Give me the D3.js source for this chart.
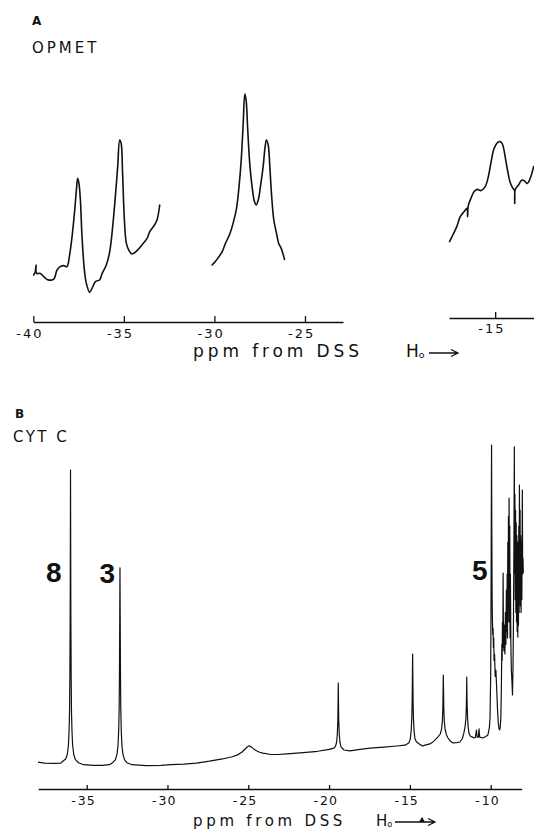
<!DOCTYPE html>
<html>
<head>
<meta charset="utf-8">
<script src="https://cdn.jsdelivr.net/npm/d3@7"></script>
<style>
  html, body { margin: 0; padding: 0; background: #fff; }
  svg { display: block; }
  text { font-family: "DejaVu Sans", "Liberation Sans", sans-serif; fill: #111; }
</style>
</head>
<body>
<svg id="chart" width="534" height="835"></svg>
<script>
// ---------- Panel A: OPMET, three recorded windows [ppm, intensity] ----------
const opmetWindow1 = [
  [-39.98,12.5],[-39.89,14.2],[-39.85,17.5],[-39.82,13.3],[-39.61,13.3],[-39.43,11.7],
  [-39.24,10.3],[-38.97,10],[-38.84,10.8],[-38.69,15],[-38.51,16.7],[-38.33,17.2],
  [-38.14,16.7],[-38.01,21.7],[-37.86,31.7],[-37.73,43.3],[-37.62,55],[-37.55,60.8],
  [-37.48,58.3],[-37.40,50],[-37.31,31.7],[-37.18,15],[-37.07,8.3],[-36.89,3.8],
  [-36.76,5.8],[-36.57,9.2],[-36.34,10],[-36.20,13.3],[-35.97,17.5],[-35.78,24.2],
  [-35.60,38.3],[-35.47,51.7],[-35.34,66.7],[-35.23,80],[-35.15,78.3],[-35.07,63.3],
  [-34.97,40],[-34.86,28.3],[-34.73,25],[-34.55,23],[-34.27,24.7],[-34.00,27.5],
  [-33.72,30.8],[-33.57,34.2],[-33.31,37.5],[-33.17,40],[-33.02,47.5]
];
const opmetWindow2 = [
  [-30.13,17.5],[-30.00,18.7],[-29.82,20.8],[-29.57,24.2],[-29.39,28.3],[-29.15,33],
  [-28.97,38.3],[-28.78,45.8],[-28.64,56.7],[-28.52,70],[-28.41,88.3],[-28.32,103],
  [-28.25,100],[-28.16,85],[-28.05,68.3],[-27.92,56.7],[-27.79,49.2],[-27.70,47.5],
  [-27.58,50],[-27.46,56.7],[-27.31,66.7],[-27.20,76.7],[-27.13,80],[-27.03,77.5],
  [-26.94,66.7],[-26.85,53.3],[-26.72,40],[-26.57,33.3],[-26.45,28.3],[-26.31,25.8],
  [-26.13,20.3]
];
const opmetWindow3 = [
  [-17.52,29.2],[-17.34,32.5],[-17.12,36.7],[-16.93,41.7],[-16.71,44.2],[-16.56,45.8],
  [-16.52,41.7],[-16.49,47],[-16.34,50.8],[-16.16,54.2],[-15.98,55.3],[-15.79,54.7],
  [-15.55,56.7],[-15.40,60.8],[-15.24,68.3],[-15.06,75.8],[-14.87,78.7],[-14.72,79.2],
  [-14.60,78],[-14.45,71.7],[-14.32,65],[-14.17,58.7],[-14.02,55.8],[-13.94,55],
  [-13.92,48.3],[-13.89,55.3],[-13.71,57.5],[-13.52,60],[-13.38,59.5],[-13.22,58.3],
  [-13.03,61.7],[-12.88,66.7]
];
const opmetTicksLeft = [-40, -35, -30, -25];
const opmetTicksRight = [-15];

// ---------- Panel B: cytochrome c, one continuous sweep [ppm, intensity] ----------
const cytcSpectrum = [
  [-38.01,1.2],[-37.6,0.9],[-37.0,0.8],[-36.6,0.9],
  [-36.5,1.4],[-36.3,2.2],[-36.2,3.6],[-36.13,6.5],[-36.09,11],[-36.06,17],[-36.04,28],
  [-36.02,48],[-36.01,70],[-36.0,92.5],[-35.99,70],[-35.98,48],[-35.96,28],[-35.94,17],
  [-35.91,11],[-35.87,6.5],[-35.8,3.6],[-35.7,2],[-35.5,1],[-35.2,0.4],
  [-34.6,0.2],[-34.0,0.2],[-33.6,0.4],
  [-33.4,1],[-33.22,2],[-33.12,3.8],[-33.06,6.5],[-33.02,11],[-32.99,18],[-32.97,30],
  [-32.955,45],[-32.94,61.9],[-32.925,45],[-32.91,30],[-32.89,18],[-32.86,11],[-32.82,6.5],
  [-32.76,3.8],[-32.66,2],[-32.5,1],[-32.2,0.4],
  [-31.3,0.1],[-30.4,0.2],[-29.8,0.4],[-29.0,0.6],[-28.2,0.9],[-27.4,1.5],[-26.6,2.2],
  [-26.0,2.9],[-25.7,3.4],[-25.4,4.3],[-25.2,5.3],[-25.05,6],[-24.95,6.3],[-24.8,5.9],
  [-24.58,5.0],[-24.3,4.3],[-24.09,4.0],[-23.6,3.6],[-23.2,3.6],[-22.6,3.8],[-21.6,4.2],
  [-20.7,4.6],[-20.0,5.2],[-19.7,5.6],
  [-19.6,6.2],[-19.53,7.5],[-19.49,10],[-19.46,14],[-19.445,19],[-19.43,25.9],[-19.415,19],
  [-19.4,14],[-19.37,10],[-19.33,7.5],[-19.26,6],[-19.08,5],[-18.71,4.7],[-18.2,5.1],
  [-17.47,5.6],[-16.6,5.9],[-15.8,6.25],[-15.3,6.5],
  [-15.05,7.3],[-14.97,8.6],[-14.92,11],[-14.88,15],[-14.86,20],[-14.845,27],[-14.83,35],
  [-14.815,27],[-14.8,20],[-14.78,15],[-14.74,11],[-14.69,8.6],[-14.6,7.6],[-14.5,7.2],
  [-14.35,6.6],[-14.19,6.3],[-14.0,6.6],[-13.76,6.9],[-13.6,7.4],[-13.45,8.1],[-13.26,9.1],
  [-13.12,10],[-13.04,11.5],[-12.99,14],[-12.96,18],[-12.945,23],[-12.93,28.4],[-12.915,23],
  [-12.9,18],[-12.87,14],[-12.82,11.5],[-12.74,9.8],[-12.64,8.75],[-12.5,7.8],[-12.33,7.2],
  [-12.1,7.3],[-11.9,7.5],[-11.75,8.6],
  [-11.65,10.5],[-11.58,12.5],[-11.53,15],[-11.505,19],[-11.49,23],[-11.48,27.8],[-11.47,23],
  [-11.455,19],[-11.43,15],[-11.39,12],[-11.34,10.2],[-11.25,9.3],[-11.16,9.1],[-11.03,8.75],
  [-10.95,8.9],[-10.88,11.2],[-10.84,9],[-10.76,9],[-10.72,11.6],[-10.68,9],[-10.48,8.75],
  [-10.3,9.2],[-10.17,9.7],[-10.08,12],[-10.04,15],[-10.0,28],[-9.975,55],[-9.96,80],
  [-9.945,100.3],
  [-9.93,75],[-9.91,52],[-9.89,45],[-9.87,41],[-9.85,43],[-9.83,37],[-9.81,40],[-9.79,33],
  [-9.76,35],[-9.72,28],[-9.68,30],[-9.63,24.7],[-9.58,18],[-9.53,13.5],[-9.49,11.8],
  [-9.45,11.25],[-9.41,12],[-9.37,15],[-9.34,24],[-9.31,38],[-9.29,33],[-9.27,45],[-9.25,37],
  [-9.23,60.3],[-9.21,42],[-9.18,36],[-9.15,44],[-9.12,35],[-9.09,48],[-9.06,38],[-9.03,55],
  [-9.0,42],[-8.98,60],[-8.96,40],[-8.94,70],[-8.92,45],[-8.9,78],[-8.88,50],[-8.86,83.75],
  [-8.84,45],[-8.82,75],[-8.8,40],[-8.78,60],[-8.75,38],[-8.72,30],[-8.68,26],[-8.65,22.2],
  [-8.62,30],[-8.59,45],[-8.56,70],[-8.535,99.7],[-8.52,60],[-8.5,85],[-8.48,52],[-8.46,80],
  [-8.44,48],[-8.42,76],[-8.40,45],[-8.38,72],[-8.36,42],[-8.34,70],[-8.32,40.3],[-8.30,65],
  [-8.28,44],[-8.26,75],[-8.24,48],[-8.22,87.8],[-8.20,55],[-8.18,80],[-8.16,50],[-8.14,72],
  [-8.12,48],[-8.10,70],[-8.07,52],[-8.04,86.25],[-8.02,60],[-8.0,65],[-7.98,60.3]
];
const cytcTicks = [-35, -30, -25, -20, -15, -10];
// peak assignments written beside the lines: [label, ppm of the line, label baseline intensity]
const cytcPeakLabels = [["8", -36.0, 57.6], ["3", -32.94, 57.1], ["5", -9.945, 58.1]];

const svg = d3.select("#chart");
const ink = "#111";

// ---------- scales ----------
const xA1 = d3.scaleLinear().domain([-40, -22.9]).range([33.3, 343.0]);
const xA2 = d3.scaleLinear().domain([-17.55, -12.85]).range([449, 534.1]);
const yA  = d3.scaleLinear().domain([0, 100]).range([300, 100]);
const xB  = d3.scaleLinear().domain([-38.0, -8.08]).range([38.2, 521.7]);
const yB  = d3.scaleLinear().domain([0, 100]).range([766, 446]);

// ---------- helpers ----------
function drawAxis(y, scale, ticks, opts) {
  const g = svg.append("g").attr("transform", `translate(0,${y})`)
    .call(d3.axisBottom(scale).tickValues(ticks).tickSize(-opts.tick).tickSizeOuter(0).tickFormat(""));
  g.select(".domain").attr("stroke", ink).attr("stroke-width", 1.4);
  g.selectAll(".tick line").attr("stroke", ink).attr("stroke-width", 1.3);
  // digits centred under the tick, short minus hanging to the left
  ticks.forEach(t => {
    const cx = scale(t);
    const digits = g.append("text")
      .attr("x", cx).attr("y", opts.labelDy)
      .attr("text-anchor", "middle")
      .style("font-size", opts.fontSize + "px")
      .style("letter-spacing", opts.spacing + "px")
      .text(String(Math.abs(t)));
    const w = digits.node().getComputedTextLength();
    g.append("text")
      .attr("x", cx - w / 2 - opts.gap).attr("y", opts.labelDy)
      .attr("text-anchor", "end")
      .style("font-size", opts.fontSize + "px")
      .text("-");
  });
  return g;
}

function axisTitle(x, y, fontSize, spacing) {
  svg.append("text")
    .attr("x", x).attr("y", y)
    .style("font-size", fontSize + "px")
    .style("letter-spacing", spacing + "px")
    .text("ppm from DSS");
}

function fieldArrow(x, y, fontSize, x0, x1, ay, marker) {
  const t = svg.append("text").attr("x", x).attr("y", y).style("font-size", fontSize + "px");
  t.append("tspan").text("H");
  t.append("tspan").attr("dy", 1).style("font-size", (fontSize * 0.55) + "px").text("o");
  svg.append("path")
    .attr("d", `M${x0},${ay}H${x1}M${x1 - 7},${ay - 3.5}L${x1},${ay}L${x1 - 7},${ay + 3.5}`)
    .attr("fill", "none").attr("stroke", ink).attr("stroke-width", 1.3);
  if (marker) {
    svg.append("path")
      .attr("d", `M${marker - 3},${ay}L${marker},${ay - 5}L${marker + 3},${ay}Z`)
      .attr("fill", ink);
  }
}

// ---------- Panel A ----------
svg.append("text").attr("x", 32).attr("y", 25)
  .style("font-size", "12px").style("font-weight", "bold").text("A");
svg.append("text").attr("x", 32).attr("y", 53)
  .style("font-size", "15px").style("letter-spacing", "3px").text("OPMET");

const lineA1 = d3.line().x(d => xA1(d[0])).y(d => yA(d[1])).curve(d3.curveCatmullRom.alpha(0.5));
const lineA2 = d3.line().x(d => xA2(d[0])).y(d => yA(d[1])).curve(d3.curveCatmullRom.alpha(0.5));
[[opmetWindow1, lineA1], [opmetWindow2, lineA1], [opmetWindow3, lineA2]].forEach(([data, gen]) => {
  svg.append("path").datum(data).attr("d", gen)
    .attr("fill", "none").attr("stroke", ink).attr("stroke-width", 1.6)
    .attr("stroke-linejoin", "round").attr("stroke-linecap", "round");
});

drawAxis(322, xA1, opmetTicksLeft, { tick: 6, labelDy: 16, fontSize: 13, spacing: 2, gap: 2 });
drawAxis(318, xA2, opmetTicksRight, { tick: 6, labelDy: 15, fontSize: 13, spacing: 2, gap: 2 });
axisTitle(193, 357, 17, 3.9);
fieldArrow(406, 357, 17, 429, 458, 353, null);

// ---------- Panel B ----------
svg.append("text").attr("x", 15).attr("y", 418)
  .style("font-size", "12px").style("font-weight", "bold").text("B");
svg.append("text").attr("x", 13).attr("y", 442)
  .style("font-size", "15px").style("letter-spacing", "2.5px").text("CYT C");

const lineB = d3.line().x(d => xB(d[0])).y(d => yB(d[1]));
svg.append("path").datum(cytcSpectrum).attr("d", lineB)
  .attr("fill", "none").attr("stroke", ink).attr("stroke-width", 1.2)
  .attr("stroke-linejoin", "round");

const labelGap = { "8": 9, "3": 5, "5": 4 };
cytcPeakLabels.forEach(([lab, ppm, level]) => {
  svg.append("text")
    .attr("x", xB(ppm) - labelGap[lab]).attr("y", yB(level))
    .attr("text-anchor", "end")
    .style("font-family", "'Liberation Sans', Arial, sans-serif")
    .style("font-size", "28px").style("font-weight", "bold")
    .text(lab);
});

drawAxis(789, xB, cytcTicks, { tick: 4, labelDy: 16, fontSize: 12.5, spacing: 1, gap: 2 });
axisTitle(193, 826, 15, 3.7);
fieldArrow(376, 826, 15, 395, 435, 822, 422);
</script>
</body>
</html>
